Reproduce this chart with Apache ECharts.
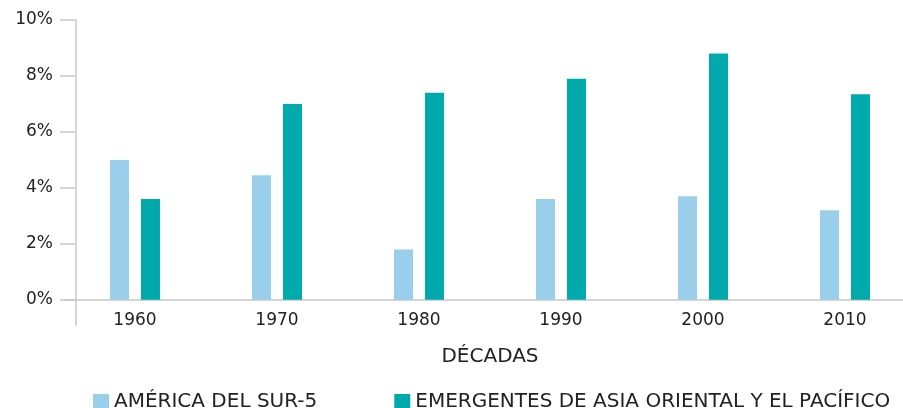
<!DOCTYPE html>
<html>
<head>
<meta charset="utf-8">
<script src="https://cdn.jsdelivr.net/npm/echarts@6/dist/echarts.min.js"></script>
<style>
  html, body { margin: 0; padding: 0; background: #fff; }
  #chart { width: 903px; height: 408px; }
</style>
</head>
<body>
<div id="chart"></div>
<script>
// datos (crecimiento promedio por década, %)
var decadas = ["1960", "1970", "1980", "1990", "2000", "2010"];
var americaSur5 = [5.0, 4.45, 1.8, 3.6, 3.7, 3.2];
var asiaPacifico = [3.6, 7.0, 7.4, 7.9, 8.8, 7.35];
var yTicks = [0, 2, 4, 6, 8, 10];

var fuente = "DejaVu Sans";
var chart = echarts.init(document.getElementById("chart"));

var option = {
  animation: false,
  textStyle: { fontFamily: fuente },
  grid: {
    left: 64,
    top: 20,
    width: 852,
    bottom: 83,
    outerBoundsMode: "none",
    containLabel: false
  },
  legend: {
    left: 88,
    top: 387,
    itemWidth: 16,
    itemHeight: 16,
    itemGap: 77,
    icon: "rect",
    textStyle: { fontSize: 20, color: "#222", fontFamily: fuente },
    data: ["AMÉRICA DEL SUR-5", "EMERGENTES DE ASIA ORIENTAL Y EL PACÍFICO"]
  },
  xAxis: {
    type: "category",
    data: decadas,
    name: "DÉCADAS",
    nameLocation: "middle",
    nameGap: 22,
    nameTextStyle: { fontSize: 20, color: "#222", fontFamily: fuente },
    axisTick: { show: false },
    axisLine: {
      onZero: true,
      lineStyle: { color: "#c8c8c8", width: 1.5 }
    },
    axisLabel: {
      margin: -13,
      fontSize: 17,
      color: "#222",
      fontFamily: fuente
    }
  },
  yAxis: {
    type: "value",
    min: -0.9,
    max: 10,
    offset: -12,
    splitLine: { show: false },
    axisLine: {
      show: true,
      lineStyle: { color: "#c8c8c8", width: 1.5 }
    },
    axisTick: {
      show: true,
      length: 16,
      customValues: yTicks,
      lineStyle: { color: "#c8c8c8", width: 1.5 }
    },
    axisLabel: {
      margin: 23,
      fontSize: 17,
      color: "#222",
      fontFamily: fuente,
      customValues: yTicks,
      formatter: function (v) { return v + "%"; }
    }
  },
  series: [
    {
      name: "AMÉRICA DEL SUR-5",
      type: "bar",
      barWidth: 19,
      barGap: "63%",
      itemStyle: { color: "#9acfec" },
      data: americaSur5
    },
    {
      name: "EMERGENTES DE ASIA ORIENTAL Y EL PACÍFICO",
      type: "bar",
      barWidth: 19,
      itemStyle: { color: "#00a9ac" },
      data: asiaPacifico
    }
  ]
};

chart.setOption(option);
</script>
</body>
</html>
